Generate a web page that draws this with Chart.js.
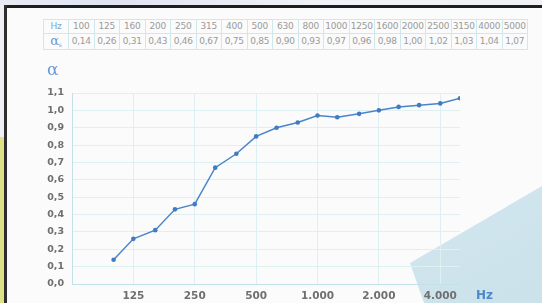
<!DOCTYPE html>
<html>
<head>
<meta charset="utf-8">
<script src="https://cdn.jsdelivr.net/npm/chart.js@4.4.1/dist/chart.umd.min.js"></script>
<style>
  html, body { margin: 0; padding: 0; }
  body { width: 542px; height: 303px; position: relative; overflow: hidden; background: #fbfbfb; font-family: "DejaVu Sans", sans-serif; }
  .topband { position: absolute; left: 0; top: 0; width: 542px; height: 5px; background: linear-gradient(90deg, #e9ecf5, #dfe2f2 20%, #f2f3f8 60%, #eef0f6); }
  .topline { position: absolute; left: 4px; top: 5px; width: 538px; height: 3px; background: #1e1e1e; }
  .leftline { position: absolute; left: 4px; top: 5px; width: 3px; height: 298px; background: #2e2e2e; }
  .leftpale { position: absolute; left: 0; top: 5px; width: 4px; height: 132px; background: #eef0f6; }
  .leftyellow { position: absolute; left: 0; top: 137px; width: 4px; height: 166px; background: #dfe08a; }
  .shape { position: absolute; left: 0; top: 0; width: 542px; height: 303px;
           background: linear-gradient(150deg, #e3eef3 0%, #d6e8ef 50%, #cbe2eb 100%);
           clip-path: polygon(410px 263px, 542px 186px, 542px 303px, 424px 303px); }
  canvas { position: absolute; left: 0; top: 0; }
  table { position: absolute; left: 43px; top: 19px; border-collapse: collapse; table-layout: fixed; }
  td { border: 1px solid #cfe8ec; height: 13px; line-height: 13px; padding: 0; font-size: 9px; color: #9a9a9a; text-align: center; white-space: nowrap; overflow: hidden; width: 24.5px; letter-spacing: -0.2px; }
  td.head { width: 24px; color: #7aa6d8; }
  .alpha { font-family: "DejaVu Serif", serif; font-size: 13px; color: #6d9ad6; position: relative; top: 0; }
  .sub { font-size: 6px; font-family: "DejaVu Sans", sans-serif; color: #6d9ad6; position: relative; top: 2px; }
  .ytitle { position: absolute; left: 47px; top: 59px; font-family: "DejaVu Serif", serif; font-size: 17px; color: #6d9ad6; }
  .xtitle { position: absolute; left: 476px; top: 288px; font-size: 12px; font-weight: bold; color: #4d88cc; }
</style>
</head>
<body>
<div class="topband"></div>
<div class="leftpale"></div>
<div class="leftyellow"></div>
<div class="topline"></div>
<div class="leftline"></div>
<div class="shape"></div>
<table id="tbl"></table>
<canvas id="chart" width="542" height="303"></canvas>
<div class="ytitle">α</div>
<div class="xtitle">Hz</div>
<script>
// frequency bands (Hz) and absorption coefficient
const freqs = [100, 125, 160, 200, 250, 315, 400, 500, 630, 800, 1000, 1250, 1600, 2000, 2500, 3150, 4000, 5000];
const alphaS = [0.14, 0.26, 0.31, 0.43, 0.46, 0.67, 0.75, 0.85, 0.90, 0.93, 0.97, 0.96, 0.98, 1.00, 1.02, 1.03, 1.04, 1.07];

const xTickValues = [125, 250, 500, 1000, 2000, 4000];
const xTickLabels = ['125', '250', '500', '1.000', '2.000', '4.000'];
const yTickValues = [0, 0.1, 0.2, 0.3, 0.4, 0.5, 0.6, 0.7, 0.8, 0.9, 1.0, 1.1];
const yTickLabels = ['0,0', '0,1', '0,2', '0,3', '0,4', '0,5', '0,6', '0,7', '0,8', '0,9', '1,0', '1,1'];

// === tabella ===
const tbl = document.getElementById('tbl');
let row1 = '<tr><td class="head">Hz</td>' + freqs.map(f => '<td>' + f + '</td>').join('') + '</tr>';
let row2 = '<tr><td class="head"><span class="alpha">α</span><span class="sub">s</span></td>' +
  alphaS.map(a => '<td>' + a.toFixed(2).replace('.', ',') + '</td>').join('') + '</tr>';
tbl.innerHTML = row1 + row2;

// === grafico ===
const gridColor = '#dff0f3';
const axisColor = '#c3e1e8';

new Chart(document.getElementById('chart').getContext('2d'), {
  type: 'line',
  data: {
    datasets: [{
      data: freqs.map((f, i) => ({ x: f, y: alphaS[i] })),
      borderColor: '#4a85c9',
      backgroundColor: '#3f7cc4',
      borderWidth: 1.5,
      pointRadius: 2.3,
      pointBorderWidth: 0,
      tension: 0,
      fill: false
    }]
  },
  options: {
    responsive: false,
    animation: false,
    layout: { padding: { left: 0, right: 82, top: 93, bottom: 0 } },
    plugins: { legend: { display: false }, tooltip: { enabled: false } },
    scales: {
      x: {
        type: 'logarithmic',
        min: 62.5,
        max: 5000,
        afterBuildTicks: s => { s.ticks = xTickValues.map(v => ({ value: v })); },
        afterFit: s => { s.height = 19; },
        grid: { color: gridColor, drawTicks: false },
        border: { color: axisColor, width: 1 },
        ticks: {
          padding: 6,
          color: '#6f6f6f',
          font: { family: 'DejaVu Sans', size: 10.5, weight: 'bold' },
          callback: (v, i) => xTickLabels[i]
        }
      },
      y: {
        min: 0,
        max: 1.1,
        afterBuildTicks: s => { s.ticks = yTickValues.map(v => ({ value: v })); },
        afterFit: s => { s.width = 72; },
        grid: { color: gridColor, drawTicks: false },
        border: { color: axisColor, width: 1 },
        ticks: {
          padding: 8,
          color: '#6f6f6f',
          font: { family: 'DejaVu Sans', size: 9.5, weight: 'bold' },
          callback: (v, i) => yTickLabels[i]
        }
      }
    }
  }
});
</script>
</body>
</html>
